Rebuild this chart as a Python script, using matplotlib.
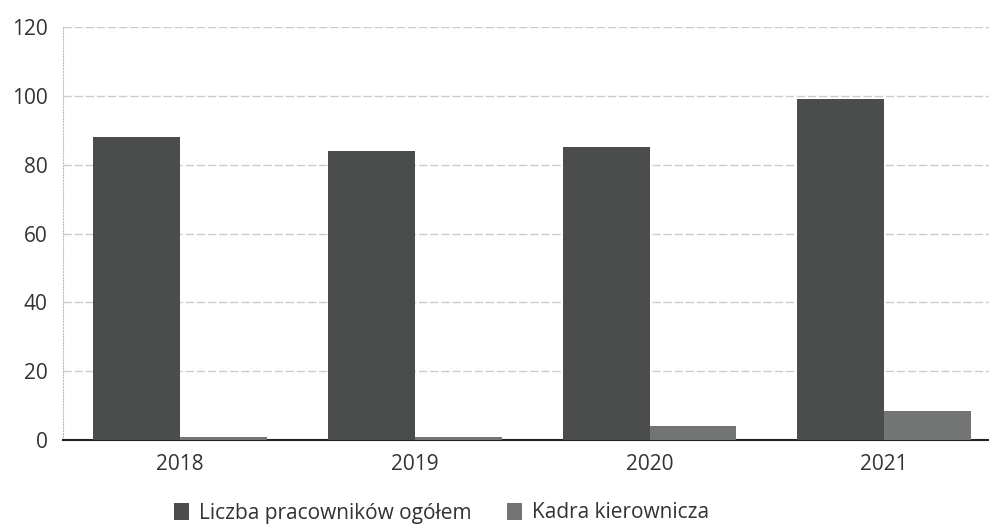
import matplotlib.pyplot as plt
import numpy as np

plt.rcParams['font.family'] = ['Open Sans', 'DejaVu Sans']

years = ['2018', '2019', '2020', '2021']
ogolem = [88, 84, 85, 99]      # Liczba pracowników ogółem
kadra = [1, 0.8, 4, 8.5]       # Kadra kierownicza

x = np.arange(len(years))
w = 0.37

fig = plt.figure(figsize=(9.89, 5.25), dpi=100)
ax = fig.add_axes([63/989, 1 - 440/525, (989 - 63)/989, (440 - 27)/525])

ax.bar(x - w/2, ogolem, w, color='#4b4d4c', label='Liczba pracowników ogółem', zorder=3)
ax.bar(x + w/2, kadra, w, color='#737574', label='Kadra kierownicza', zorder=3)

ax.set_ylim(0, 120)
ax.set_yticks(range(0, 121, 20))
ax.set_xlim(-0.5, 3.447)
ax.set_xticks(x)
ax.set_xticklabels(years)
ax.tick_params(length=0, labelsize=15, colors='#333333')
ax.tick_params(axis='x', pad=10)
ax.tick_params(axis='y', pad=11)

ax.yaxis.grid(True, color='#cccccc', linestyle=(0, (6, 2)), linewidth=1, zorder=0)
for s in ['top', 'right']:
    ax.spines[s].set_visible(False)
ax.spines['left'].set_color('#bbbbbb')
ax.spines['left'].set_linestyle(':')
ax.spines['bottom'].set_color('#222222')
ax.spines['bottom'].set_linewidth(1.5)

fig.legend(loc='center', bbox_to_anchor=(442/989, 1 - 513/525), ncol=2, frameon=False,
           fontsize=15, handlelength=0.7, handleheight=0.9, columnspacing=1.7,
           handletextpad=0.5, labelcolor='#333333')

fig.savefig('out.png', dpi=100)
